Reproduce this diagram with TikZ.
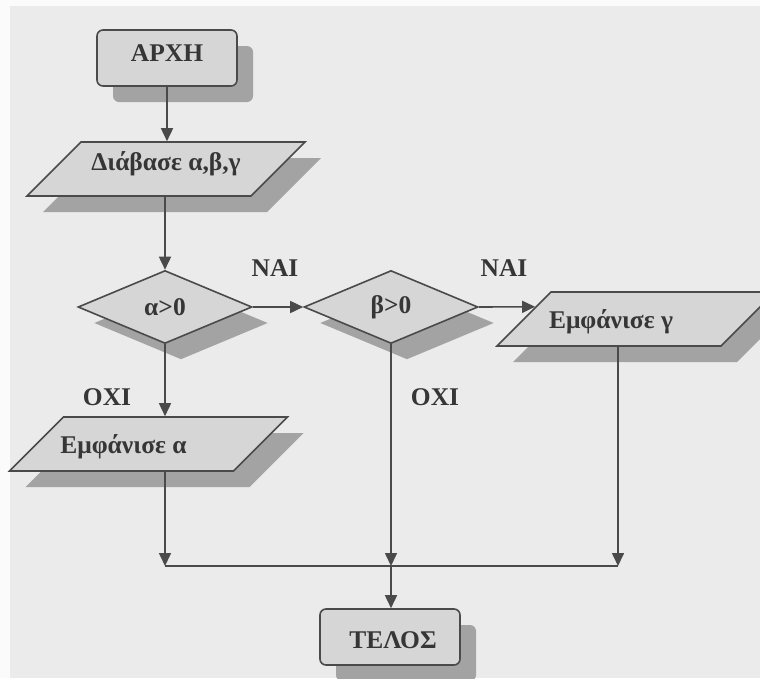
\documentclass[tikz,border=0pt]{standalone}
\usepackage{fontspec}
\setmainfont{Liberation Serif}
\usetikzlibrary{shapes.geometric,shadows,arrows.meta,calc}
\definecolor{paper}{HTML}{EBEBEB}
\definecolor{margin}{HTML}{FBFBFB}
\definecolor{boxfill}{HTML}{D6D6D6}
\definecolor{shade}{HTML}{A3A3A3}
\definecolor{ink}{HTML}{4A4A4A}
\definecolor{txt}{HTML}{363636}
% invisible strut that gives the parallelograms their height
\newcommand{\iostrut}{\rule{0pt}{54pt}}

\begin{document}
\begin{tikzpicture}[x=1pt,y=-1pt,
  every node/.style={font=\fontsize{25.5}{30}\selectfont\bfseries, text=txt},
  base/.style={draw=ink, line width=1.6pt, fill=boxfill, inner sep=0pt,
    drop shadow={shadow xshift=16pt, shadow yshift=-16pt, fill=shade, opacity=1}},
  terminal/.style={base, rectangle, rounded corners=6pt,
    minimum width=140pt, minimum height=56pt},
  io/.style={base, trapezium, trapezium left angle=45, trapezium right angle=135,
    trapezium stretches body, minimum width=278pt},
  decision/.style={base, diamond, minimum width=174pt, minimum height=73pt},
  flow/.style={draw=ink, line width=1.6pt},
  arr/.style={flow, -{Triangle[length=13pt,width=12pt]}},
  tag/.style={inner sep=0pt}
]
\useasboundingbox (0,0) rectangle (760,678);
\clip (0,0) rectangle (760,678);
\fill[margin] (0,0) rectangle (760,678);
\fill[paper] (10,6) rectangle (760,678);

% boxes of the flow chart
\node[terminal, label={[shift={(0pt,5pt)}]center:ΑΡΧΗ}] (start) at (167,58) {};
\node[io, label={[shift={(0pt,5pt)}]center:Διάβασε α,β,γ}] (in1) at (166,169) {\iostrut};
\node[decision, label={center:α>0}] (d1) at (165,307) {};
\node[decision, label={center:β>0}] (d2) at (391,307) {};
\node[io, label={[shift={(-25pt,-3pt)}]center:Εμφάνισε γ}] (out3) at (636,319) {\iostrut};
\node[io, label={[shift={(-25pt,-3pt)}]center:Εμφάνισε α}] (out2) at (148.5,444) {\iostrut};
\node[terminal, label={[shift={(3pt,-3pt)}]center:ΤΕΛΟΣ}] (end) at (390,637) {};

% branch labels
\node[tag] (yes1) at (275,268) {ΝΑΙ};
\node[tag] (yes2) at (504,268) {ΝΑΙ};
\node[tag] (no1) at (107,397) {ΟΧΙ};
\node[tag] (no2) at (435,397) {ΟΧΙ};

% junction points
\coordinate (mergey) at (0,566);
\coordinate (jl) at (d1.south |- mergey);
\coordinate (jm) at (d2.south |- mergey);
\coordinate (jr) at (618,566);
\coordinate (hit3) at ($(out3.top left corner)!0.28!(out3.bottom left corner)$);

% connectors
\draw[arr] (start.south) -- (start.south |- in1.north);
\draw[arr] (d1.north |- in1.south) -- (d1.north);
\draw[arr] (d1.east) -- (d2.west);
\draw[arr] (d2.east) -- (hit3);
\draw[arr] (d1.south) -- (d1.south |- out2.north);
\draw[arr] (d1.south |- out2.south) -- (jl);
\draw[arr] (d2.south) -- (jm);
\draw[arr] (jr |- out3.south) -- (jr);
\draw[flow] (jl) -- (jr);
\draw[arr] (jm) -- (jm |- end.north);
\end{tikzpicture}
\end{document}
